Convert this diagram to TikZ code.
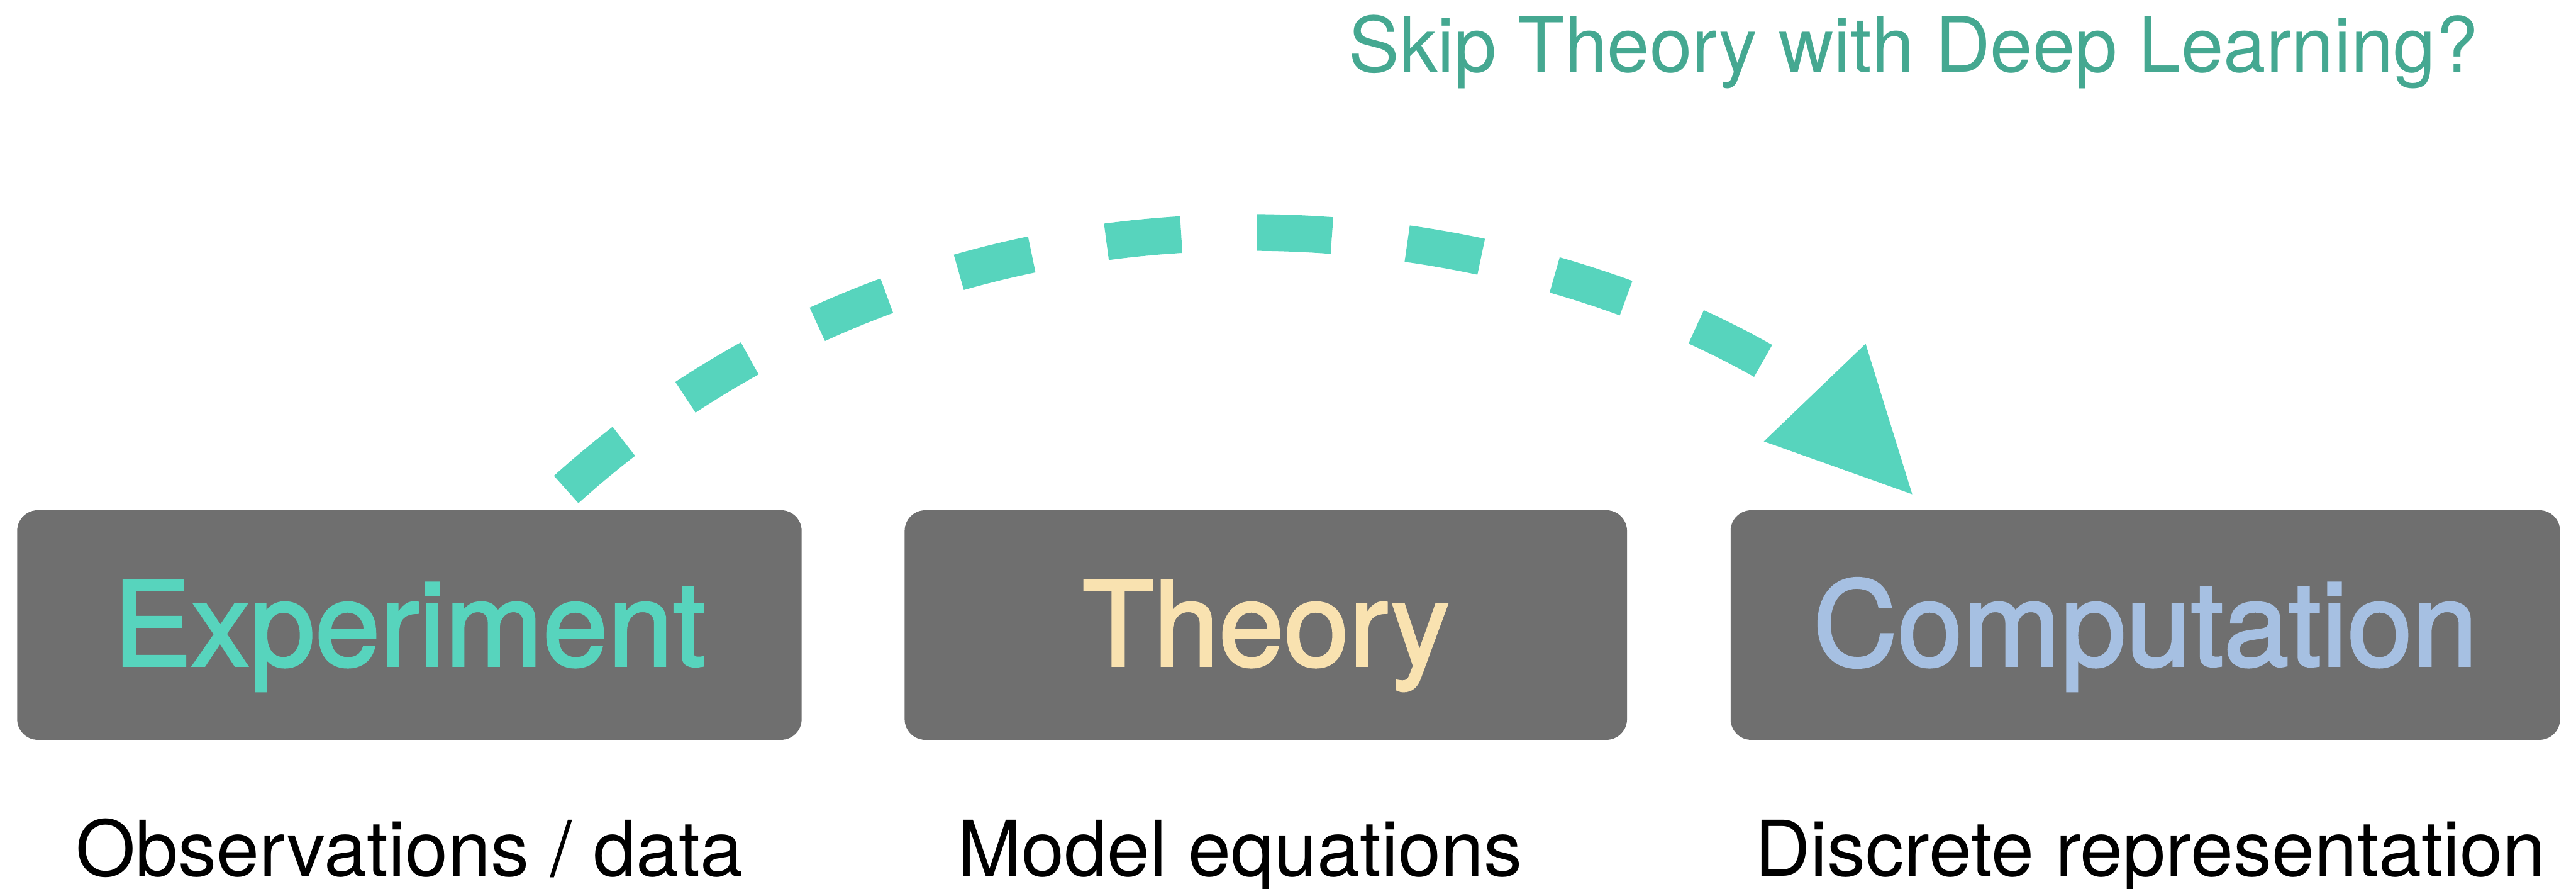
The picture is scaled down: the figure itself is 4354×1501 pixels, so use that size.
\documentclass[tikz,border=0pt]{standalone}
\usepackage{fontspec}
\setmainfont{TeX Gyre Heros}
\newfontfamily\boxfont[FakeBold=2]{TeX Gyre Heros}
\usetikzlibrary{arrows.meta}
\definecolor{boxgray}{HTML}{6F6F6F}
\definecolor{expteal}{HTML}{57D4BD}
\definecolor{thywheat}{HTML}{F9E2B0}
\definecolor{compblue}{HTML}{A6C0E2}
\definecolor{skipteal}{HTML}{45A891}
\begin{document}
\begin{tikzpicture}[x=0.1pt,y=-0.1pt,
  box/.style={fill=boxgray, rounded corners=3.5pt, minimum height=38.8pt, inner sep=0pt,
    text height=13.7pt, text depth=0pt, font=\boxfont\fontsize{19.8pt}{20pt}\selectfont},
  sublabel/.style={anchor=base, inner sep=0pt, font=\fontsize{13pt}{14pt}\selectfont},
  skipline/.style={draw=expteal, line width=6.2pt, dash pattern=on 12.7pt off 12.8pt},
  skiphead/.style={draw=expteal, line width=0.1pt, -{Triangle[length=23.8pt,width=23.8pt]}}]
\useasboundingbox (0,0) rectangle (4354,1501);
\node[box, minimum width=132.6pt, text=expteal] (exp) at (692,1056) {Experiment};
\node[box, minimum width=122.1pt, text=thywheat] (thy) at (2139.5,1056) {Theory};
\node[box, minimum width=140.2pt, text=compblue] (comp) at (3626,1056) {Computation};
\node[sublabel] (obs) at (692,1480) {Observations / data};
\node[sublabel] (meq) at (2096,1480) {Model equations};
\node[sublabel] (disc) at (3634,1480) {Discrete representation};
\node[sublabel, text=skipteal, font=\fontsize{12.9pt}{14pt}\selectfont] (q) at (3234,122) {Skip Theory with Deep Learning?};
\coordinate (s) at (957,827);
\coordinate (b) at (3068,664);
\coordinate (e) at (3232,835);
\draw[skipline] (s) .. controls (1631,220) and (2574,331) .. (b);
\draw[skiphead] (b) -- (e);
\end{tikzpicture}
\end{document}
